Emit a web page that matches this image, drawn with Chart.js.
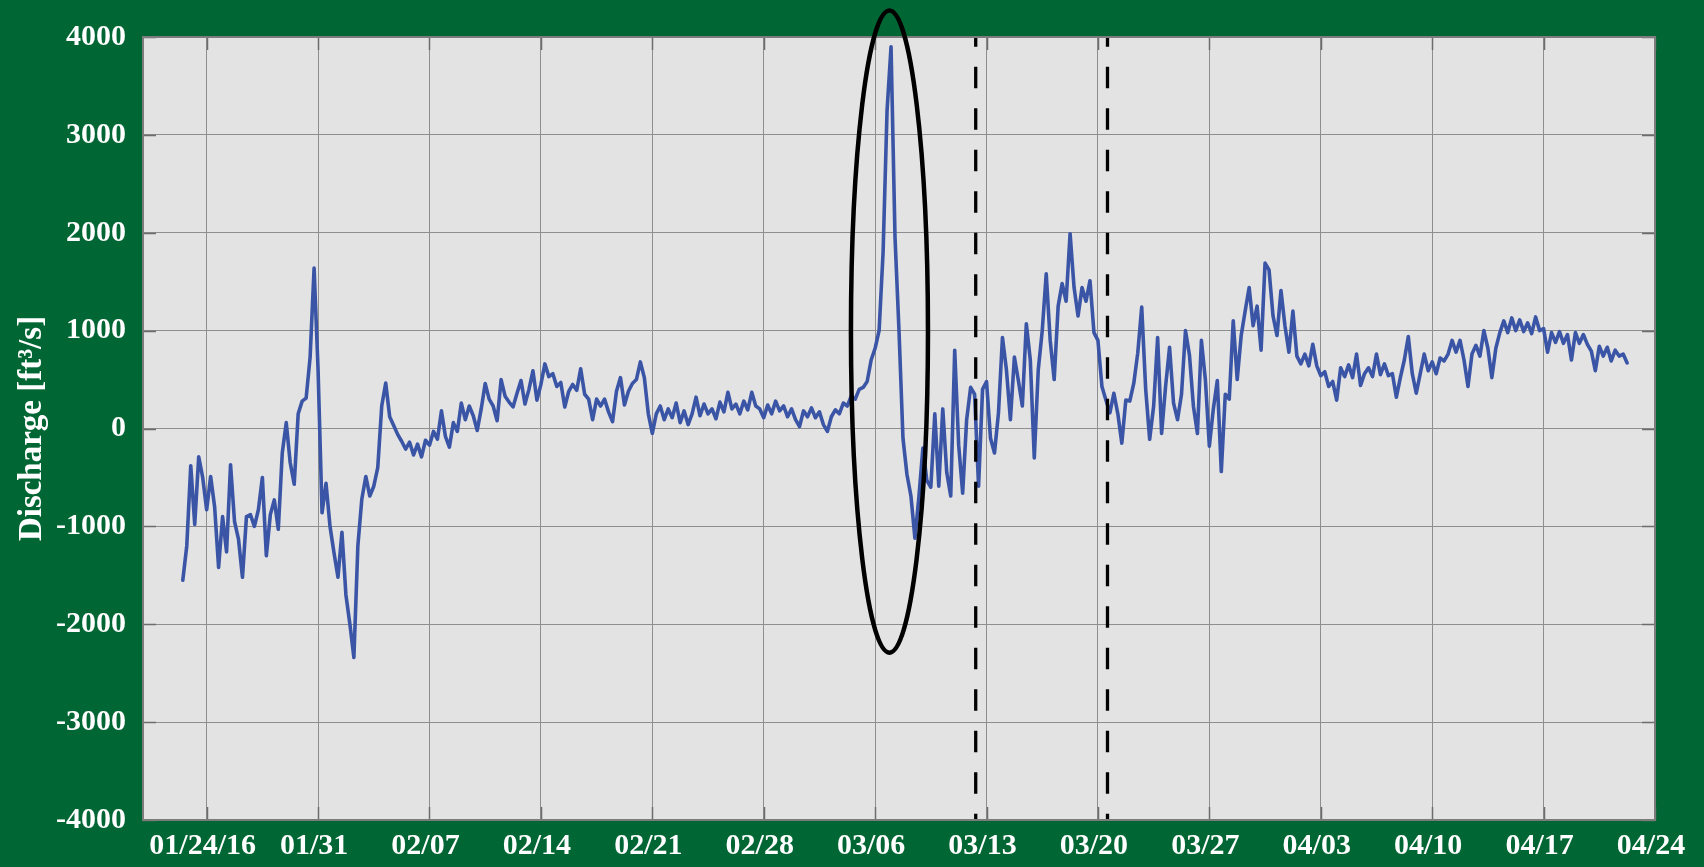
<!DOCTYPE html>
<html>
<head>
<meta charset="utf-8">
<script src="https://cdn.jsdelivr.net/npm/chart.js@4.4.1/dist/chart.umd.min.js"></script>
<style>
  html, body { margin: 0; padding: 0; background: #006633; overflow: hidden; }
  canvas { display: block; }
</style>
</head>
<body>
<canvas id="chart" width="1704" height="867"></canvas>
<script>
// Time axis: days counted from 2016-01-20 00:00
const tickDays = [4, 11, 18, 25, 32, 39, 46, 53, 60, 67, 74, 81, 88, 95];
const tickLabels = ['01/24/16', '01/31', '02/07', '02/14', '02/21', '02/28', '03/06',
                    '03/13', '03/20', '03/27', '04/03', '04/10', '04/17', '04/24'];
const yTicks = [-4000, -3000, -2000, -1000, 0, 1000, 2000, 3000, 4000];

// Discharge record, one value every 6 hours starting 2016-01-22 12:00
const firstDay = 2.5;
const stepDays = 0.25;
const discharge = [
  -1550, -1200,                 // Jan 22 (12h, 18h)
  -380, -980, -290, -500,       // Jan 23
  -830, -490, -800, -1420,      // Jan 24
  -900, -1260, -370, -950,      // Jan 25
  -1130, -1520, -900, -880,     // Jan 26
  -1000, -830, -500, -1300,     // Jan 27
  -880, -730, -1030, -250,      // Jan 28
  60, -350, -570, 150,          // Jan 29
  280, 310, 730, 1640,          // Jan 30
  600, -860, -560, -1000,       // Jan 31
  -1270, -1520, -1060, -1700,   // Feb 1
  -2000, -2340, -1200, -720,    // Feb 2
  -490, -690, -590, -400,       // Feb 3
  230, 465, 120, 30,            // Feb 4
  -60, -130, -210, -140,        // Feb 5
  -270, -160, -290, -120,       // Feb 6
  -170, -30, -110, 180,         // Feb 7
  -80, -190, 60, -30,           // Feb 8
  260, 90, 230, 130,            // Feb 9
  -20, 200, 460, 300,           // Feb 10
  230, 80, 500, 330,            // Feb 11
  270, 220, 360, 490,           // Feb 12
  250, 400, 590, 290,           // Feb 13
  450, 660, 530, 560,           // Feb 14
  430, 470, 220, 380,           // Feb 15
  450, 390, 610, 350,           // Feb 16
  300, 90, 300, 230,            // Feb 17
  300, 170, 70, 380,            // Feb 18
  520, 240, 380, 460,           // Feb 19
  500, 680, 520, 150,           // Feb 20
  -50, 150, 230, 90,            // Feb 21
  200, 110, 260, 60,            // Feb 22
  180, 40, 150, 320,            // Feb 23
  130, 250, 150, 200,           // Feb 24
  100, 270, 170, 370,           // Feb 25
  200, 250, 150, 280,           // Feb 26
  190, 370, 230, 200,           // Feb 27
  110, 240, 150, 280,           // Feb 28
  180, 230, 120, 200,           // Feb 29
  90, 20, 180, 120,             // Mar 1
  210, 110, 170, 40,            // Mar 2
  -30, 120, 190, 150,           // Mar 3
  260, 230, 330, 300,           // Mar 4
  400, 420, 480, 700,           // Mar 5
  820, 1000, 1800, 3250,        // Mar 6
  3900, 1950, 1000, -100,       // Mar 7
  -470, -690, -1120, -700,      // Mar 8
  -200, -530, -600, 150,        // Mar 9
  -590, 200, -450, -690,        // Mar 10
  800, -170, -660, 90,          // Mar 11
  420, 350, -590, 400,          // Mar 12
  480, -100, -250, 160,         // Mar 13
  930, 600, 90, 730,            // Mar 14
  490, 230, 1070, 700,          // Mar 15
  -300, 600, 1000, 1580,        // Mar 16
  900, 500, 1250, 1480,         // Mar 17
  1300, 1990, 1440, 1150,       // Mar 18
  1440, 1300, 1510, 980,        // Mar 19
  900, 430, 290, 160,           // Mar 20
  360, 150, -150, 290,          // Mar 21
  280, 460, 770, 1240,          // Mar 22
  400, -110, 230, 930,          // Mar 23
  -50, 430, 830, 260,           // Mar 24
  90, 350, 1000, 750,           // Mar 25
  225, -50, 900, 500,           // Mar 26
  -180, 200, 490, -440,         // Mar 27
  350, 300, 1100, 500,          // Mar 28
  950, 1200, 1440, 1050,        // Mar 29
  1250, 800, 1690, 1620,        // Mar 30
  1150, 950, 1410, 1050,        // Mar 31
  780, 1200, 740, 660,          // Apr 1
  760, 640, 860, 640,           // Apr 2
  540, 580, 430, 480,           // Apr 3
  290, 620, 530, 650,           // Apr 4
  520, 760, 440, 560,           // Apr 5
  620, 530, 760, 550,           // Apr 6
  660, 540, 560, 320,           // Apr 7
  520, 700, 940, 560,           // Apr 8
  360, 560, 760, 590,           // Apr 9
  680, 560, 720, 690,           // Apr 10
  760, 900, 780, 900,           // Apr 11
  700, 430, 760, 850,           // Apr 12
  740, 1000, 820, 520,          // Apr 13
  820, 980, 1100, 980,          // Apr 14
  1130, 1000, 1110, 990,        // Apr 15
  1080, 970, 1140, 1000,        // Apr 16
  1020, 780, 980, 880,          // Apr 17
  990, 870, 960, 700,           // Apr 18
  980, 870, 960, 860,           // Apr 19
  790, 590, 840, 740,           // Apr 20
  830, 690, 800, 740,           // Apr 21
  760, 670                      // Apr 22 (00h, 06h)
];

// Vertical event markers (days from 2016-01-20)
const markerDays = [52.32, 60.6];

// Highlighted flood pulse, outlined with an ellipse (axis units)
const pulseCenterDay = 46.9;
const pulseCenterValue = 990;
const pulseHalfWidthDays = 2.42;
const pulseHalfHeight = 3280;

const GREEN = '#006633';
const PLOT_BG = '#e3e3e3';
const GRID = '#8e8e8e';
const LINE_BLUE = '#3b55a6';
const FONT_FAMILY = '"Liberation Serif", "Times New Roman", serif';

const seriesPoints = discharge.map((q, i) => ({ x: firstDay + i * stepDays, y: q }));

const markerSets = markerDays.map(d => ({
  data: [{ x: d, y: 4000 }, { x: d, y: -4000 }],
  borderColor: '#000000',
  borderWidth: 3.3,
  borderDash: [21.5, 20],
  borderDashOffset: 11.8,
  pointRadius: 0,
  fill: false
}));

const framePlugin = {
  id: 'frame',
  beforeDraw(chart) {
    const { ctx, chartArea: a } = chart;
    ctx.save();
    ctx.fillStyle = GREEN;
    ctx.fillRect(0, 0, chart.width, chart.height);
    ctx.fillStyle = PLOT_BG;
    ctx.fillRect(a.left, a.top, a.right - a.left, a.bottom - a.top);
    ctx.restore();
  },
  beforeDatasetsDraw(chart) {
    // short inward tick marks on all four sides
    const { ctx, chartArea: a, scales } = chart;
    const len = 13;
    ctx.save();
    ctx.strokeStyle = '#6c6c6c';
    ctx.lineWidth = 1.5;
    ctx.beginPath();
    scales.x.ticks.forEach(t => {
      const px = Math.round(scales.x.getPixelForValue(t.value)) + 0.5;
      ctx.moveTo(px, a.bottom); ctx.lineTo(px, a.bottom - len);
      ctx.moveTo(px, a.top); ctx.lineTo(px, a.top + len);
    });
    scales.y.ticks.forEach(t => {
      const py = Math.round(scales.y.getPixelForValue(t.value)) + 0.5;
      ctx.moveTo(a.left, py); ctx.lineTo(a.left + len, py);
      ctx.moveTo(a.right, py); ctx.lineTo(a.right - len, py);
    });
    ctx.stroke();
    ctx.restore();
  },
  afterDatasetsDraw(chart) {
    const { ctx, chartArea: a, scales } = chart;
    ctx.save();
    ctx.strokeStyle = '#7c7c7c';
    ctx.lineWidth = 2;
    ctx.strokeRect(a.left, a.top, a.right - a.left, a.bottom - a.top);

    const cx = scales.x.getPixelForValue(pulseCenterDay);
    const cy = scales.y.getPixelForValue(pulseCenterValue);
    const rx = scales.x.getPixelForValue(pulseCenterDay + pulseHalfWidthDays) - cx;
    const ry = cy - scales.y.getPixelForValue(pulseCenterValue + pulseHalfHeight);
    ctx.beginPath();
    ctx.ellipse(cx, cy, rx, ry, 0, 0, Math.PI * 2);
    ctx.strokeStyle = '#000000';
    ctx.lineWidth = 4.5;
    ctx.stroke();
    ctx.restore();
  }
};

new Chart(document.getElementById('chart'), {
  type: 'line',
  data: {
    datasets: [
      ...markerSets,
      {
        data: seriesPoints,
        borderColor: LINE_BLUE,
        borderWidth: 3.6,
        pointRadius: 0,
        tension: 0,
        borderJoinStyle: 'round',
        borderCapStyle: 'round',
        fill: false
      }
    ]
  },
  options: {
    responsive: false,
    devicePixelRatio: 1,
    animation: false,
    events: [],
    layout: { padding: { left: 0, right: 49, top: 37, bottom: 0 } },
    plugins: { legend: { display: false }, tooltip: { enabled: false } },
    scales: {
      x: {
        type: 'linear',
        min: 0,
        max: 95,
        afterBuildTicks: s => { s.ticks = tickDays.map(v => ({ value: v })); },
        afterFit: s => { s.height = 47; },
        grid: { color: GRID, lineWidth: 1, drawTicks: false },
        border: { display: false },
        ticks: {
          autoSkip: false,
          maxRotation: 0,
          padding: 8,
          labelOffset: -4,
          color: '#ffffff',
          font: { family: FONT_FAMILY, size: 30, weight: 'bold' },
          callback: v => tickLabels[tickDays.indexOf(v)]
        }
      },
      y: {
        min: -4000,
        max: 4000,
        afterBuildTicks: s => { s.ticks = yTicks.map(v => ({ value: v })); },
        afterFit: s => { s.width = 143; },
        grid: { color: GRID, lineWidth: 1, drawTicks: false },
        border: { display: false },
        ticks: {
          padding: 17,
          color: '#ffffff',
          font: { family: FONT_FAMILY, size: 30, weight: 'bold' },
          callback: v => String(v)
        },
        title: {
          display: true,
          text: 'Discharge [ft³/s]',
          color: '#ffffff',
          font: { family: FONT_FAMILY, size: 33, weight: 'bold' },
          padding: { top: 13, bottom: 0 }
        }
      }
    }
  },
  plugins: [framePlugin]
});
</script>
</body>
</html>
